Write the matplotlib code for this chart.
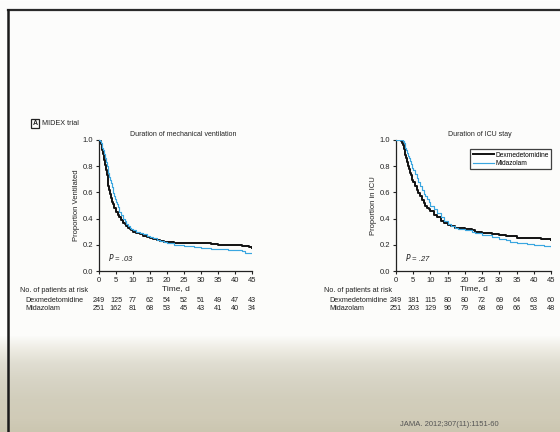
import numpy as np
import matplotlib
matplotlib.use("Agg")
import matplotlib.pyplot as plt
from matplotlib.transforms import blended_transform_factory
from matplotlib.lines import Line2D
from matplotlib.patches import Rectangle

plt.rcParams['font.family'] = ['Liberation Sans', 'DejaVu Sans']

# ---------------- data ----------------
groups = ["Dexmedetomidine", "Midazolam"]
tick_days = [0, 5, 10, 15, 20, 25, 30, 35, 40, 45]

# Duration of mechanical ventilation
mv_dex_t = [0, 0.25, 0.5, 0.75, 1, 1.25, 1.5, 1.75, 2, 2.25, 2.5, 2.75, 3, 3.25, 3.5, 3.75, 4, 4.5, 5, 5.5, 6, 6.5, 7, 7.5, 8, 8.5, 9, 9.5, 10, 11, 12, 13, 14, 15, 16, 17, 18, 19, 20, 22, 25, 28, 30, 33, 35, 38, 40, 42, 44, 45]
mv_dex_p = [1.0, 0.99, 0.97, 0.95, 0.92, 0.89, 0.85, 0.81, 0.77, 0.73, 0.69, 0.65, 0.62, 0.59, 0.56, 0.53, 0.51, 0.48, 0.45, 0.43, 0.41, 0.39, 0.37, 0.355, 0.34, 0.33, 0.32, 0.31, 0.30, 0.29, 0.28, 0.27, 0.26, 0.25, 0.245, 0.24, 0.23, 0.225, 0.22, 0.215, 0.215, 0.21, 0.21, 0.205, 0.20, 0.20, 0.195, 0.19, 0.18, 0.175]
mv_mid_t = [0, 0.25, 0.5, 0.75, 1, 1.25, 1.5, 1.75, 2, 2.25, 2.5, 2.75, 3, 3.25, 3.5, 3.75, 4, 4.25, 4.5, 4.75, 5, 5.25, 5.5, 5.75, 6, 6.5, 7, 7.5, 8, 8.5, 9, 9.5, 10, 11, 12, 13, 14, 15, 16, 17, 18, 19, 20, 22, 25, 28, 30, 33, 35, 38, 40, 42, 43, 45]
mv_mid_p = [1.0, 0.99, 0.98, 0.96, 0.94, 0.92, 0.89, 0.86, 0.83, 0.80, 0.77, 0.745, 0.72, 0.695, 0.67, 0.645, 0.62, 0.595, 0.57, 0.55, 0.53, 0.51, 0.49, 0.47, 0.45, 0.425, 0.40, 0.38, 0.36, 0.345, 0.33, 0.32, 0.31, 0.30, 0.29, 0.28, 0.27, 0.26, 0.25, 0.24, 0.23, 0.22, 0.21, 0.20, 0.19, 0.18, 0.175, 0.17, 0.165, 0.16, 0.16, 0.15, 0.14, 0.135]
mv_risk_dex = [249, 125, 77, 62, 54, 52, 51, 49, 47, 43]
mv_risk_mid = [251, 162, 81, 68, 53, 45, 43, 41, 40, 34]

# Duration of ICU stay
icu_dex_t = [0, 1.5, 1.75, 2, 2.25, 2.5, 2.75, 3, 3.25, 3.5, 3.75, 4, 4.25, 4.5, 4.75, 5, 5.5, 6, 6.5, 7, 7.5, 8, 8.5, 9, 9.5, 10, 11, 12, 13, 14, 15, 16, 17, 18, 20, 22, 23, 25, 28, 30, 32, 34, 35, 38, 40, 42, 45]
icu_dex_p = [1.0, 0.99, 0.98, 0.96, 0.935, 0.91, 0.885, 0.86, 0.83, 0.80, 0.775, 0.75, 0.73, 0.71, 0.695, 0.68, 0.65, 0.62, 0.595, 0.57, 0.545, 0.52, 0.50, 0.48, 0.47, 0.46, 0.43, 0.41, 0.38, 0.37, 0.35, 0.34, 0.33, 0.325, 0.32, 0.31, 0.30, 0.29, 0.28, 0.275, 0.27, 0.27, 0.255, 0.25, 0.25, 0.245, 0.24]
icu_mid_t = [0, 2, 2.25, 2.5, 2.75, 3, 3.25, 3.5, 3.75, 4, 4.25, 4.5, 4.75, 5, 5.5, 6, 6.5, 7, 7.5, 8, 8.5, 9, 9.5, 10, 11, 12, 13, 14, 15, 16, 17, 18, 20, 22, 23, 25, 28, 30, 32, 33, 35, 38, 40, 43, 45]
icu_mid_p = [1.0, 0.99, 0.975, 0.96, 0.94, 0.92, 0.90, 0.88, 0.86, 0.84, 0.82, 0.80, 0.785, 0.77, 0.74, 0.71, 0.68, 0.65, 0.62, 0.59, 0.57, 0.55, 0.525, 0.50, 0.47, 0.44, 0.41, 0.38, 0.36, 0.345, 0.33, 0.32, 0.31, 0.30, 0.29, 0.275, 0.26, 0.245, 0.235, 0.225, 0.215, 0.205, 0.20, 0.19, 0.18]
icu_risk_dex = [249, 181, 115, 80, 80, 72, 69, 64, 63, 60]
icu_risk_mid = [251, 203, 129, 96, 79, 68, 69, 66, 53, 48]

# ---------------- figure ----------------
W, H = 560, 432
fig = plt.figure(figsize=(W / 100, H / 100), dpi=100)
fig.patch.set_facecolor('white')

# background (slide photo look)
bg = fig.add_axes([0, 0, 1, 1], zorder=-10)
bg.set_xlim(0, W)
bg.set_ylim(H, 0)
bg.axis('off')
rows = np.arange(H)
stops_y = [0, 335, 348, 362, 378, 398, 418, 432]
stops_c = np.array([[253, 253, 252], [252, 252, 250], [238, 236, 228], [224, 222, 210],
                    [216, 213, 198], [210, 206, 188], [208, 203, 183], [203, 198, 176]]) / 255.0
col = np.stack([np.interp(rows, stops_y, stops_c[:, k]) for k in range(3)], axis=1)
img = np.repeat(col[:, None, :], W, axis=1)
bg.imshow(img, extent=(0, W, H, 0), aspect='auto', interpolation='bilinear')
bg.add_line(Line2D([8, W], [10, 10], color='#2a2a2a', lw=1.6))
bg.add_line(Line2D([8, 8], [10, H], color='#1a1a1a', lw=1.8))


def fx(px):
    return px / W


def fy(py):
    return 1 - py / H


def make_panel(x0px, x1px, ylabel, title, title_x, dex_t, dex_p, mid_t, mid_p,
               pval, risk_dex, risk_mid, table_x, legend=False):
    ax = fig.add_axes([fx(x0px), fy(271), fx(x1px - x0px), (271 - 140) / H])
    ax.set_facecolor('none')
    ax.step(dex_t, dex_p, where='post', color='#111111', lw=1.4, label=groups[0], zorder=3)
    ax.step(mid_t, mid_p, where='post', color='#3aa6e0', lw=0.85, label=groups[1], zorder=4)
    ax.set_xlim(0, 45)
    ax.set_ylim(0, 1.0)
    ax.set_xticks(tick_days)
    ax.set_yticks([0.0, 0.2, 0.4, 0.6, 0.8, 1.0])
    ax.set_yticklabels(['0.0', '0.2', '0.4', '0.6', '0.8', '1.0'])
    for s in ['top', 'right']:
        ax.spines[s].set_visible(False)
    for s in ['left', 'bottom']:
        ax.spines[s].set_linewidth(0.9)
        ax.spines[s].set_color('#222222')
    ax.tick_params(labelsize=5.5, length=2.5, width=0.8, pad=1.5, colors='#222222')
    ax.set_xlabel('Time, d', fontsize=6, labelpad=1, color='#222222')
    ax.set_ylabel(ylabel, fontsize=5.5, labelpad=2, color='#222222')
    ax.text(2.5, 0.08, r'$\it{P}$ = ' + pval, fontsize=5.5, style='italic', color='#222222')
    fig.text(fx(title_x), fy(135), title, fontsize=5, ha='center', va='center', color='#222222')
    if legend:
        leg = ax.legend(loc='upper right', bbox_to_anchor=(1.0, 0.93), fontsize=4.8,
                        frameon=True, fancybox=False, handlelength=3.2, borderpad=0.35,
                        labelspacing=0.2, handletextpad=0.2, borderaxespad=0)
        leg.get_frame().set_edgecolor('#111111')
        leg.get_frame().set_linewidth(0.9)
    tr = blended_transform_factory(ax.transData, fig.transFigure)
    fig.text(fx(table_x), fy(290), 'No. of patients at risk', fontsize=5.2,
             ha='left', va='center', color='#222222')
    fig.text(fx(table_x + 5), fy(300), groups[0], fontsize=5.2, ha='left', va='center', color='#222222')
    fig.text(fx(table_x + 5), fy(309), groups[1], fontsize=5.2, ha='left', va='center', color='#222222')
    for t, n in zip(tick_days, risk_dex):
        ax.text(t, fy(300), str(n), transform=tr, fontsize=5.2, ha='center', va='center', color='#222222')
    for t, n in zip(tick_days, risk_mid):
        ax.text(t, fy(309), str(n), transform=tr, fontsize=5.2, ha='center', va='center', color='#222222')
    return ax


make_panel(99, 252, 'Proportion Ventilated', 'Duration of mechanical ventilation', 183,
           mv_dex_t, mv_dex_p, mv_mid_t, mv_mid_p, '.03', mv_risk_dex, mv_risk_mid, 20)
make_panel(396, 551, 'Proportion in ICU', 'Duration of ICU stay', 480,
           icu_dex_t, icu_dex_p, icu_mid_t, icu_mid_p, '.27', icu_risk_dex, icu_risk_mid, 324,
           legend=True)

# panel tag
bg.add_patch(Rectangle((31, 119), 8, 9, fill=False, edgecolor='#222222', lw=0.9))
bg.text(35, 123.8, 'A', fontsize=5, ha='center', va='center', color='#222222', fontweight='bold')
bg.text(42, 123.5, 'MIDEX trial', fontsize=5.2, ha='left', va='center', color='#222222')

# citation
bg.text(400, 425, 'JAMA. 2012;307(11):1151-60', fontsize=5.5, ha='left', va='center', color='#555555')

fig.savefig('out.png', dpi=100)
